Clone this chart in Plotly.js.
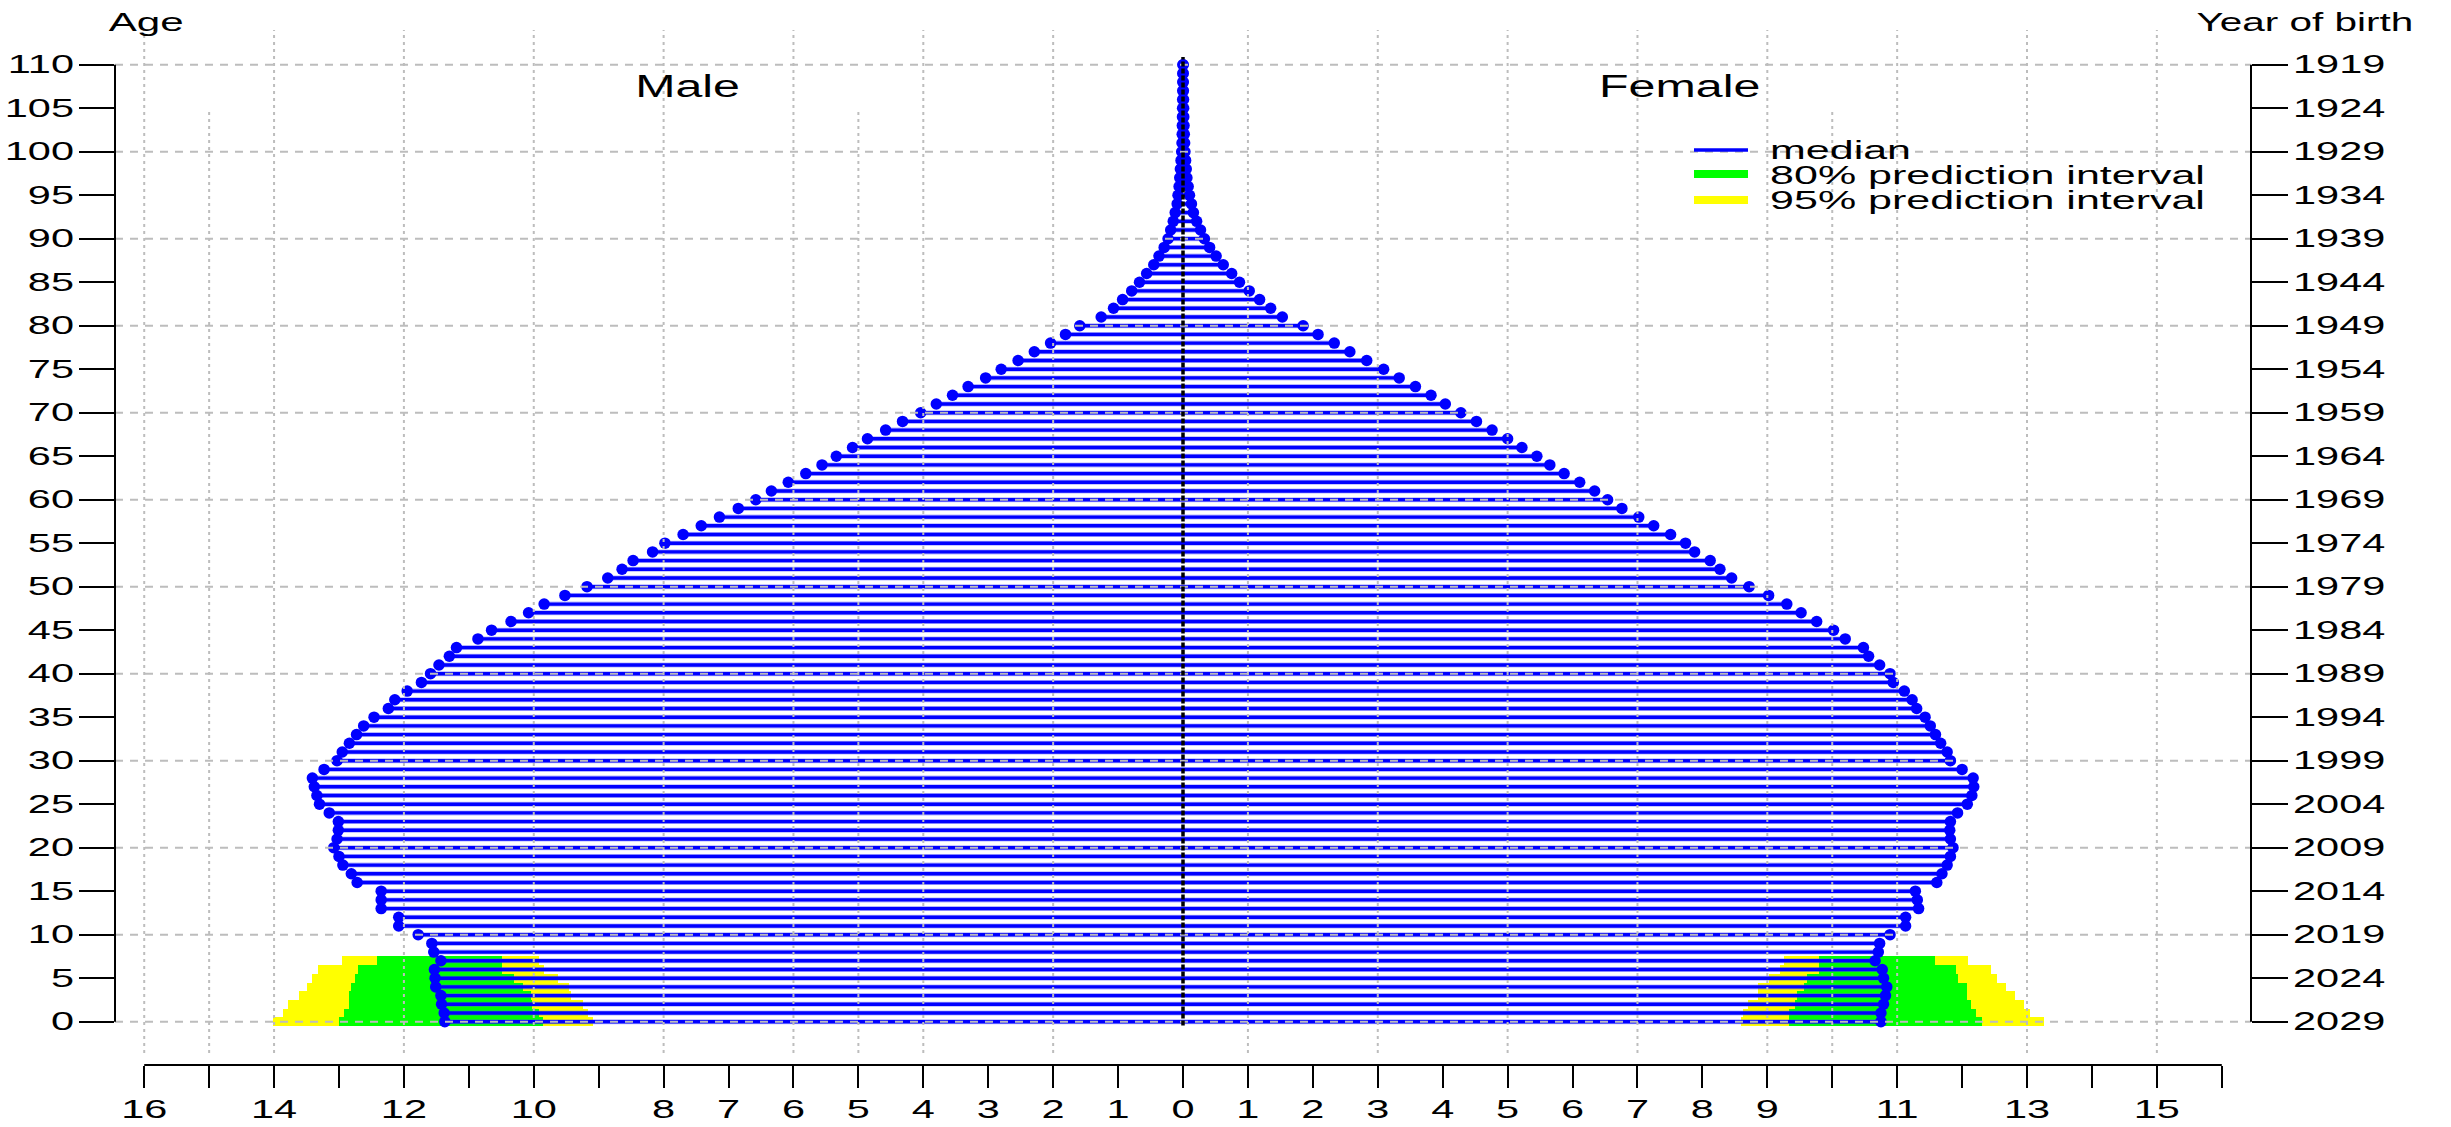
<!DOCTYPE html>
<html>
<head>
<meta charset="utf-8">
<script src="https://cdn.plot.ly/plotly-3.0.1.min.js"></script>
<style>
  html, body { margin: 0; padding: 0; background: #ffffff; }
  #chart { width: 2451px; height: 1127px; }
</style>
</head>
<body>
<div id="chart"></div>
<script>
// ---------------- DATA ----------------
const ages = Array.from({length: 111}, (_, i) => i);

const maleMedian = [
  11.37, 11.38, 11.42, 11.43, 11.51, 11.52, 11.53, 11.43, 11.54, 11.57,
  11.78, 12.08, 12.08, 12.35, 12.35, 12.35, 12.72, 12.81, 12.94, 13.00,
  13.08, 13.03, 13.01, 13.01, 13.15, 13.30, 13.34, 13.38, 13.41, 13.23,
  13.03, 12.95, 12.84, 12.73, 12.62, 12.46, 12.24, 12.14, 11.95, 11.73,
  11.59, 11.46, 11.30, 11.19, 10.86, 10.65, 10.35, 10.08, 9.84, 9.52,
  9.18, 8.86, 8.64, 8.47, 8.17, 7.98, 7.70, 7.42, 7.14, 6.85,
  6.58, 6.34, 6.08, 5.81, 5.56, 5.34, 5.09, 4.86, 4.58, 4.32,
  4.04, 3.80, 3.55, 3.31, 3.04, 2.80, 2.54, 2.29, 2.04, 1.81,
  1.59, 1.26, 1.07, 0.93, 0.79, 0.67, 0.56, 0.45, 0.37, 0.29,
  0.23, 0.19, 0.15, 0.12, 0.09, 0.077, 0.06, 0.05, 0.04, 0.03,
  0.02, 0.015, 0.012, 0.01, 0.008, 0.006, 0.005, 0.004, 0.003, 0.002,
  0.001
];

const femaleMedian = [
  10.75, 10.75, 10.79, 10.82, 10.84, 10.79, 10.77, 10.66, 10.71, 10.73,
  10.89, 11.13, 11.13, 11.33, 11.31, 11.28, 11.61, 11.69, 11.77, 11.82,
  11.86, 11.82, 11.81, 11.82, 11.93, 12.08, 12.15, 12.18, 12.17, 12.00,
  11.82, 11.77, 11.67, 11.59, 11.51, 11.43, 11.30, 11.23, 11.11, 10.94,
  10.89, 10.73, 10.56, 10.48, 10.20, 10.02, 9.76, 9.52, 9.30, 9.02,
  8.72, 8.45, 8.27, 8.12, 7.88, 7.74, 7.51, 7.25, 7.02, 6.76,
  6.54, 6.34, 6.11, 5.87, 5.65, 5.45, 5.22, 5.00, 4.76, 4.52,
  4.28, 4.04, 3.82, 3.58, 3.33, 3.09, 2.83, 2.57, 2.33, 2.08,
  1.85, 1.53, 1.35, 1.18, 1.02, 0.87, 0.75, 0.62, 0.51, 0.41,
  0.33, 0.27, 0.21, 0.16, 0.13, 0.10, 0.08, 0.06, 0.05, 0.04,
  0.03, 0.025, 0.02, 0.016, 0.012, 0.01, 0.008, 0.006, 0.004, 0.003,
  0.002
];

// prediction intervals (ages 0..7)
const bandAges = [0, 1, 2, 3, 4, 5, 6, 7];
const male95lo = [9.09, 9.16, 9.24, 9.42, 9.46, 9.63, 9.85, 9.92];
const male80lo = [9.86, 9.92, 10.03, 10.05, 10.17, 10.30, 10.49, 10.49];
const male80hi = [13.00, 12.92, 12.84, 12.84, 12.82, 12.76, 12.70, 12.42];
const male95hi = [14.01, 13.86, 13.79, 13.62, 13.49, 13.41, 13.32, 12.96];
const female95lo = [8.60, 8.63, 8.71, 8.86, 8.86, 9.02, 9.19, 9.25];
const female80lo = [9.33, 9.34, 9.43, 9.45, 9.56, 9.61, 9.79, 9.79];
const female80hi = [12.31, 12.21, 12.14, 12.08, 12.07, 11.93, 11.90, 11.59];
const female95hi = [13.26, 13.05, 12.95, 12.81, 12.67, 12.54, 12.45, 12.09];

// tick labels
const ageTicks = [0, 5, 10, 15, 20, 25, 30, 35, 40, 45, 50, 55, 60, 65, 70, 75, 80, 85, 90, 95, 100, 105, 110];
const ageLabels = ['0','5','10','15','20','25','30','35','40','45','50','55','60','65','70','75','80','85','90','95','100','105','110'];
const yearLabels = ['2029','2024','2019','2014','2009','2004','1999','1994','1989','1984','1979','1974','1969','1964','1959','1954','1949','1944','1939','1934','1929','1924','1919'];
const xTickVals = [-16,-15,-14,-13,-12,-11,-10,-9,-8,-7,-6,-5,-4,-3,-2,-1,0,1,2,3,4,5,6,7,8,9,10,11,12,13,14,15,16];
const xTickText = ['16','','14','','12','','10','','8','7','6','5','4','3','2','1','0','1','2','3','4','5','6','7','8','9','','11','','13','','15',''];
const gridAges = [0, 10, 20, 30, 40, 50, 60, 70, 80, 90, 100, 110];
const gridXMajor = [-16, -14, -12, -10, -8, -6, -4, -2, 1, 3, 5, 7, 9, 11, 13, 15];
const gridXMinor = [-15, -10, -5, 5, 10, 15];

const legendLabels = ['median', '80% prediction interval', '95% prediction interval'];
const sideLabels = ['Male', 'Female'];

// ---------------- STYLE ----------------
const BLUE = '#0000ff', GREEN = '#00ff00', YELLOW = '#ffff00';
const FONT = 'Liberation Sans, Arial, Helvetica, sans-serif';
const GRIDCOL = '#bdbdbd';

// ---------------- TRACES ----------------
function segs(vals, sign) {
  const xs = [], ys = [];
  vals.forEach((v, i) => { xs.push(0, sign * v, null); ys.push(ages[i], ages[i], null); });
  return {xs, ys};
}
const mSeg = segs(maleMedian, -1);
const fSeg = segs(femaleMedian, 1);

const traces = [];
// 95% bands
traces.push({type: 'bar', orientation: 'h', y: bandAges,
  base: male95hi.map(v => -v), x: male95hi.map((v, i) => v - male95lo[i]),
  width: 1, marker: {color: YELLOW, line: {width: 0}}, showlegend: false, hoverinfo: 'skip'});
traces.push({type: 'bar', orientation: 'h', y: bandAges,
  base: female95lo, x: female95hi.map((v, i) => v - female95lo[i]),
  width: 1, marker: {color: YELLOW, line: {width: 0}}, showlegend: false, hoverinfo: 'skip'});
// 80% bands
traces.push({type: 'bar', orientation: 'h', y: bandAges,
  base: male80hi.map(v => -v), x: male80hi.map((v, i) => v - male80lo[i]),
  width: 1, marker: {color: GREEN, line: {width: 0}}, showlegend: false, hoverinfo: 'skip'});
traces.push({type: 'bar', orientation: 'h', y: bandAges,
  base: female80lo, x: female80hi.map((v, i) => v - female80lo[i]),
  width: 1, marker: {color: GREEN, line: {width: 0}}, showlegend: false, hoverinfo: 'skip'});
// halo + median lines
[mSeg, fSeg].forEach(s => {
  traces.push({type: 'scatter', mode: 'lines', x: s.xs, y: s.ys,
    line: {color: 'rgba(70,70,255,0.4)', width: 5}, showlegend: false, hoverinfo: 'skip'});
});
[mSeg, fSeg].forEach(s => {
  traces.push({type: 'scatter', mode: 'lines', x: s.xs, y: s.ys,
    line: {color: BLUE, width: 3.4}, showlegend: false, hoverinfo: 'skip'});
});
// end dots
traces.push({type: 'scatter', mode: 'markers', x: maleMedian.map(v => -v), y: ages,
  marker: {color: BLUE, size: 11.5, line: {width: 0}}, showlegend: false, hoverinfo: 'skip'});
traces.push({type: 'scatter', mode: 'markers', x: femaleMedian, y: ages,
  marker: {color: BLUE, size: 11.5, line: {width: 0}}, showlegend: false, hoverinfo: 'skip'});
// invisible trace to activate right axis
traces.push({type: 'scatter', mode: 'markers', x: [0], y: [0], yaxis: 'y2',
  marker: {opacity: 0, size: 1}, showlegend: false, hoverinfo: 'skip'});

// ---------------- SHAPES ----------------
const L = 115, R = 2251, T = 30, B = 1065;
const px2paperX = p => (p - L) / (R - L);
const px2paperY = p => (B - p) / (B - T);

const shapes = [];
// horizontal dashed grid
gridAges.forEach(a => shapes.push({type: 'line', xref: 'paper', yref: 'y', x0: 0, x1: 1, y0: a, y1: a,
  line: {color: GRIDCOL, width: 2, dash: '8px,7px'}, layer: 'above'}));
// vertical dotted grid
gridXMajor.forEach(v => shapes.push({type: 'line', xref: 'x', yref: 'y', x0: v, x1: v, y0: -3.6, y1: 114,
  line: {color: GRIDCOL, width: 2, dash: '3px,4px'}, layer: 'above'}));
gridXMinor.filter(v => gridXMajor.indexOf(v) < 0).forEach(v => shapes.push({type: 'line', xref: 'x', yref: 'y',
  x0: v, x1: v, y0: -3.6, y1: 104.6, line: {color: GRIDCOL, width: 2, dash: '3px,4px'}, layer: 'above'}));
// centre black dotted line
shapes.push({type: 'line', xref: 'x', yref: 'y', x0: 0, x1: 0, y0: -0.45, y1: 110.9,
  line: {color: '#000000', width: 3.5, dash: '5px,2px'}, layer: 'above'});
// axis lines
shapes.push({type: 'line', xref: 'x', yref: 'paper', x0: -16, x1: 16, y0: 0, y1: 0,
  line: {color: '#000', width: 2}, layer: 'above'});
shapes.push({type: 'line', xref: 'paper', yref: 'y', x0: 0, x1: 0, y0: 0, y1: 110,
  line: {color: '#000', width: 2}, layer: 'above'});
shapes.push({type: 'line', xref: 'paper', yref: 'y', x0: 1, x1: 1, y0: 0, y1: 110,
  line: {color: '#000', width: 2}, layer: 'above'});
// legend samples
const legColors = [BLUE, GREEN, YELLOW];
const legWidths = [3.5, 8, 8];
const legY = [150, 174, 200];
legColors.forEach((c, i) => shapes.push({type: 'line', xref: 'paper', yref: 'paper',
  x0: px2paperX(1694), x1: px2paperX(1748), y0: px2paperY(legY[i]), y1: px2paperY(legY[i]),
  line: {color: c, width: legWidths[i]}, layer: 'above'}));

// ---------------- ANNOTATIONS ----------------
const annotations = [];
const annStretch = [];
annotations.push({text: sideLabels[0], xref: 'x', yref: 'y', x: -7.63, y: 107.5, showarrow: false,
  xanchor: 'center', yanchor: 'middle', font: {family: FONT, size: 31, color: '#000'}}); annStretch.push(1.56);
annotations.push({text: sideLabels[1], xref: 'x', yref: 'y', x: 7.65, y: 107.5, showarrow: false,
  xanchor: 'center', yanchor: 'middle', font: {family: FONT, size: 31, color: '#000'}}); annStretch.push(1.56);
annotations.push({text: 'Age', xref: 'paper', yref: 'paper', x: px2paperX(146), y: px2paperY(22), showarrow: false,
  xanchor: 'center', yanchor: 'middle', font: {family: FONT, size: 26, color: '#000'}}); annStretch.push(1.62);
annotations.push({text: 'Year of birth', xref: 'paper', yref: 'paper', x: px2paperX(2305), y: px2paperY(22), showarrow: false,
  xanchor: 'center', yanchor: 'middle', font: {family: FONT, size: 25, color: '#000'}}); annStretch.push(1.62);
const legTextY = [150, 175, 200];
legendLabels.forEach((t, i) => {
  annotations.push({text: t, xref: 'paper', yref: 'paper', x: px2paperX(1769), y: px2paperY(legTextY[i]),
    showarrow: false, xanchor: 'left', yanchor: 'middle', borderpad: 0,
    font: {family: FONT, size: 25, color: '#000'}});
  annStretch.push(1.72);
});

// ---------------- LAYOUT ----------------
const tickFont = {family: FONT, size: 25, color: '#000'};
const layout = {
  width: 2451, height: 1127,
  margin: {l: L, r: 2451 - R, t: T, b: 1127 - B, pad: 0},
  paper_bgcolor: '#ffffff', plot_bgcolor: '#ffffff',
  showlegend: false,
  barmode: 'overlay', bargap: 0,
  xaxis: {range: [-16.45, 16.45], tickmode: 'array', tickvals: xTickVals, ticktext: xTickText,
    ticks: 'outside', ticklen: 22, tickwidth: 2, tickcolor: '#000', tickfont: tickFont,
    showgrid: false, zeroline: false, showline: false, fixedrange: true, automargin: false},
  yaxis: {range: [-4.98, 113.99], tickmode: 'array', tickvals: ageTicks, ticktext: ageLabels,
    ticks: 'outside', ticklen: 35, tickwidth: 2, tickcolor: '#000', tickfont: tickFont,
    showgrid: false, zeroline: false, showline: false, fixedrange: true, automargin: false},
  yaxis2: {range: [-4.98, 113.99], overlaying: 'y', side: 'right', tickmode: 'array', tickvals: ageTicks,
    ticktext: yearLabels, ticks: 'outside', ticklen: 36, tickwidth: 2, tickcolor: '#000', tickfont: tickFont,
    showgrid: false, zeroline: false, showline: false, fixedrange: true, automargin: false},
  shapes: shapes,
  annotations: annotations
};

// ---------------- TEXT WIDENING (reference text is horizontally stretched) ----------------
function widen(el, s, p) {
  const tr = el.getAttribute('transform') || '';
  el.setAttribute('transform', tr + ' translate(' + p + ',0) scale(' + s + ',1) translate(' + (-p) + ',0)');
}
function stretchTexts(gd) {
  try {
    gd.querySelectorAll('.xtick text, .ytick text, .y2tick text').forEach(t => {
      const p = parseFloat(t.getAttribute('x')) || 0;
      widen(t, 1.66, p);
    });
    gd.querySelectorAll('g.annotation').forEach(g => {
      const idx = parseInt(g.getAttribute('data-index'), 10);
      const ann = annotations[idx];
      const t = g.querySelector('text');
      if (!t || !ann) return;
      const bb = t.getBBox();
      let p = bb.x + bb.width / 2;
      if (ann.xanchor === 'left') p = bb.x;
      else if (ann.xanchor === 'right') p = bb.x + bb.width;
      widen(t, annStretch[idx] || 1.6, p);
    });
  } catch (e) { /* leave text unstretched */ }
}

const gd = document.getElementById('chart');
Plotly.newPlot(gd, traces, layout, {staticPlot: true, displayModeBar: false, responsive: false})
  .then(() => stretchTexts(gd));
</script>
</body>
</html>
